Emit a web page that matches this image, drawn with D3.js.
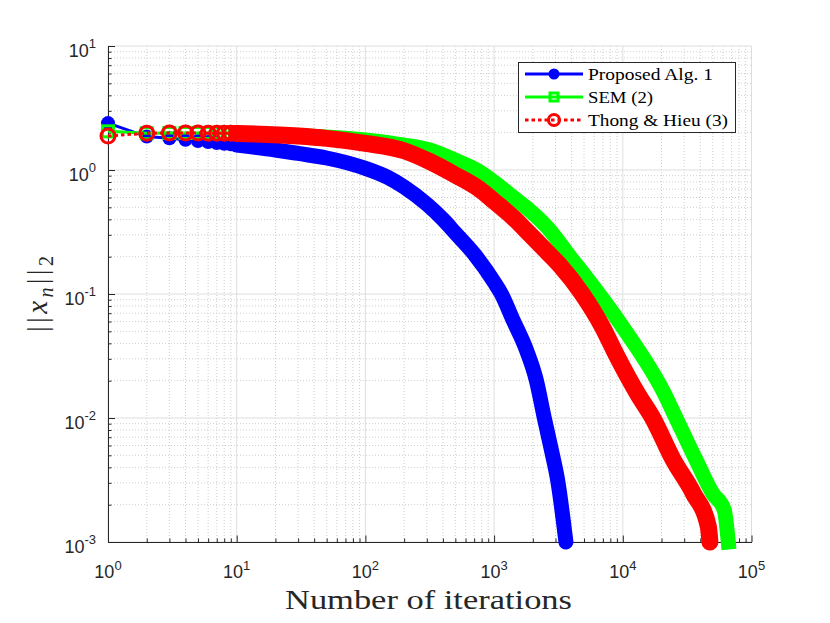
<!DOCTYPE html>
<html>
<head>
<meta charset="utf-8">
<script src="https://cdn.jsdelivr.net/npm/d3@7"></script>
<style>
  body { margin: 0; background: #fff; }
  svg { display: block; }
</style>
</head>
<body>
<div id="chart"></div>
<script>
// Iteration counts and ||x_n||_2 values, one pair per series
const blueIters = [1, 2, 3, 4, 5, 6, 7, 8, 9, 10, 20, 30, 50, 100, 150, 200, 300, 400, 500, 700, 1000, 1140, 1400, 1790, 2120, 2455, 2800, 3116, 3615];
const blueVals  = [2.39, 1.86, 1.80, 1.75, 1.71, 1.68, 1.65, 1.63, 1.61, 1.59, 1.45, 1.36, 1.25, 1.03, 0.87, 0.73, 0.53, 0.40, 0.31, 0.21, 0.125, 0.10, 0.062, 0.035, 0.0205, 0.010, 0.0054, 0.00316, 0.0010];

const greenIters = [1, 2, 3, 4, 5, 6, 7, 8, 9, 10, 30, 100, 200, 316, 500, 769, 1000, 1420, 1770, 2620, 3960, 4840, 9950, 21000, 25900, 37100, 49900, 61400, 66000];
const greenVals  = [2.05, 1.98, 1.99, 1.99, 1.99, 1.99, 1.99, 1.98, 1.98, 1.98, 1.90, 1.75, 1.59, 1.45, 1.20, 0.97, 0.80, 0.60, 0.50, 0.34, 0.195, 0.15, 0.0545, 0.0158, 0.010, 0.00458, 0.00247, 0.00181, 0.0010];

const redIters = [1, 2, 3, 4, 5, 6, 7, 8, 9, 10, 30, 50, 100, 200, 316, 500, 769, 1000, 1420, 1750, 2620, 3250, 4840, 6930, 8940, 12970, 17070, 24700, 35300, 46200, 47500];
const redVals  = [1.88, 1.98, 1.99, 1.99, 1.99, 1.98, 1.98, 1.98, 1.98, 1.97, 1.88, 1.80, 1.64, 1.43, 1.17, 0.91, 0.70, 0.56, 0.41, 0.33, 0.215, 0.17, 0.10, 0.0545, 0.032, 0.0158, 0.010, 0.00458, 0.00247, 0.00133, 0.0010];

const seriesNames = ['Proposed Alg. 1', 'SEM (2)', 'Thong & Hieu (3)'];
const xTickExps = [0, 1, 2, 3, 4, 5];
const yTickExps = [-3, -2, -1, 0, 1];

const W = 830, H = 623;
const plotL = 108, plotR = 751.5, plotT = 46, plotB = 542;

const svg = d3.select('#chart').append('svg')
    .attr('width', W)
    .attr('height', H);

const x = d3.scaleLog().domain([1, 1e5]).range([plotL, plotR]);
const y = d3.scaleLog().domain([1e-3, 10]).range([plotB, plotT]);

const isMajor = v => Math.abs(Math.log10(v) - Math.round(Math.log10(v))) < 1e-9;
const xMinor = x.ticks().filter(v => !isMajor(v));
const yMinor = y.ticks().filter(v => !isMajor(v));
const xMajor = xTickExps.map(e => Math.pow(10, e));
const yMajor = yTickExps.map(e => Math.pow(10, e));

// grid: minor dotted, then major solid
const grid = svg.append('g').attr('class', 'grid');
grid.selectAll('.xminor').data(xMinor).join('line')
    .attr('x1', d => x(d)).attr('x2', d => x(d))
    .attr('y1', plotT).attr('y2', plotB)
    .attr('stroke', '#cfcfcf').attr('stroke-width', 1)
    .attr('stroke-dasharray', '1,2');
grid.selectAll('.yminor').data(yMinor).join('line')
    .attr('x1', plotL).attr('x2', plotR)
    .attr('y1', d => y(d)).attr('y2', d => y(d))
    .attr('stroke', '#cfcfcf').attr('stroke-width', 1)
    .attr('stroke-dasharray', '1,2');
grid.selectAll('.xmajor').data(xMajor).join('line')
    .attr('x1', d => x(d)).attr('x2', d => x(d))
    .attr('y1', plotT).attr('y2', plotB)
    .attr('stroke', '#dedede').attr('stroke-width', 1);
grid.selectAll('.ymajor').data(yMajor).join('line')
    .attr('x1', plotL).attr('x2', plotR)
    .attr('y1', d => y(d)).attr('y2', d => y(d))
    .attr('stroke', '#dedede').attr('stroke-width', 1);

// axes (ticks point inward like matlab)
const axisColor = '#262626';
const xAxis = svg.append('g')
    .attr('transform', `translate(0, ${plotB})`)
    .call(d3.axisBottom(x).tickValues(xMinor.concat(xMajor)).tickSize(0).tickFormat(''));
xAxis.select('.domain').attr('stroke', axisColor);
xAxis.selectAll('.tick line')
    .attr('stroke', axisColor)
    .attr('y2', d => isMajor(d) ? -6.5 : -3.5);

const yAxis = svg.append('g')
    .attr('transform', `translate(${plotL}, 0)`)
    .call(d3.axisLeft(y).tickValues(yMinor.concat(yMajor)).tickSize(0).tickFormat(''));
yAxis.select('.domain').attr('stroke', axisColor);
yAxis.selectAll('.tick line')
    .attr('stroke', axisColor)
    .attr('x2', d => isMajor(d) ? 7 : 3.5);

// tick labels with superscript exponents
xTickExps.forEach(e => {
    const t = svg.append('text')
        .attr('x', x(Math.pow(10, e)))
        .attr('y', 578)
        .attr('text-anchor', 'middle')
        .style('font-family', '"Liberation Sans", Arial, sans-serif')
        .style('font-size', '18px')
        .style('fill', axisColor);
    t.append('tspan').text('10');
    t.append('tspan').attr('dy', -8).style('font-size', '13px').text(e);
});
yTickExps.forEach(e => {
    const t = svg.append('text')
        .attr('x', 96)
        .attr('y', y(Math.pow(10, e)) + 11)
        .attr('text-anchor', 'end')
        .style('font-family', '"Liberation Sans", Arial, sans-serif')
        .style('font-size', '18px')
        .style('fill', axisColor);
    t.append('tspan').text('10');
    t.append('tspan').attr('dy', -9).style('font-size', '13px').text(e);
});

// axis titles
svg.append('text')
    .attr('x', (285 + 572) / 2)
    .attr('y', 609)
    .attr('text-anchor', 'middle')
    .attr('textLength', 287)
    .attr('lengthAdjust', 'spacingAndGlyphs')
    .style('font-family', '"Liberation Serif", "DejaVu Serif", serif')
    .style('font-size', '28px')
    .style('fill', axisColor)
    .text('Number of iterations');

const yl = svg.append('text')
    .attr('transform', 'translate(47, 294) rotate(-90)')
    .attr('text-anchor', 'middle')
    .attr('textLength', 76)
    .attr('lengthAdjust', 'spacing')
    .style('font-family', '"Liberation Serif", "DejaVu Serif", serif')
    .style('font-size', '29px')
    .style('fill', axisColor);
yl.append('tspan').text('||');
yl.append('tspan').style('font-style', 'italic').text('x');
yl.append('tspan').attr('dy', 6).style('font-style', 'italic').style('font-size', '20px').text('n');
yl.append('tspan').attr('dy', -6).text('||');
yl.append('tspan').attr('dy', 6).style('font-size', '20px').text('2');

// series
const series = [
    { name: seriesNames[0], iters: blueIters, vals: blueVals, color: '#0000ff', marker: 'circle', dash: null, band: 15, cap: 'round' },
    { name: seriesNames[1], iters: greenIters, vals: greenVals, color: '#00ff00', marker: 'square', dash: null, band: 15, cap: 'square' },
    { name: seriesNames[2], iters: redIters, vals: redVals, color: '#ff0000', marker: 'ring', dash: '3.5,3', band: 17, cap: 'round' }
];

const line = d3.line().x(d => x(d[0])).y(d => y(d[1]));
const smooth = d3.line().x(d => x(d[0])).y(d => y(d[1])).curve(d3.curveMonotoneX);

function drawMarker(g, cx, cy, s, r) {
    if (s.marker === 'circle') {
        g.append('circle').attr('cx', cx).attr('cy', cy).attr('r', r)
            .attr('fill', s.color);
    } else if (s.marker === 'square') {
        g.append('rect').attr('x', cx - r + 1.5).attr('y', cy - r + 1.5)
            .attr('width', 2 * r - 3).attr('height', 2 * r - 3)
            .attr('fill', 'none').attr('stroke', s.color).attr('stroke-width', 3);
    } else {
        g.append('circle').attr('cx', cx).attr('cy', cy).attr('r', r)
            .attr('fill', 'none').attr('stroke', s.color).attr('stroke-width', 3);
    }
}

series.forEach(s => {
    const pts = s.iters.map((n, i) => [n, s.vals[i]]);
    const g = svg.append('g');
    g.append('path')
        .attr('d', line(pts.filter(p => p[0] <= 10)))
        .attr('fill', 'none')
        .attr('stroke', s.color)
        .attr('stroke-width', 3)
        .attr('stroke-dasharray', s.dash);
    // individual markers where iterations are still far apart
    pts.filter(p => p[0] <= 10).forEach(p => drawMarker(g, x(p[0]), y(p[1]), s, 7));
    // beyond that the markers merge into a solid band
    g.append('path')
        .attr('d', smooth(pts.filter(p => p[0] >= 10)))
        .attr('fill', 'none')
        .attr('stroke', s.color)
        .attr('stroke-width', s.band)
        .attr('stroke-linejoin', 'round')
        .attr('stroke-linecap', s.cap);
});

// legend
const lg = svg.append('g');
lg.append('rect')
    .attr('x', 518.5).attr('y', 62.5)
    .attr('width', 217).attr('height', 70)
    .attr('fill', '#fff')
    .attr('stroke', axisColor).attr('stroke-width', 1);
const legendWidths = [125, 65, 140];
series.forEach((s, i) => {
    const cy = 74 + i * 23;
    lg.append('line')
        .attr('x1', 525).attr('x2', 583)
        .attr('y1', cy).attr('y2', cy)
        .attr('stroke', s.color).attr('stroke-width', 3)
        .attr('stroke-dasharray', s.dash);
    drawMarker(lg, 554, cy, s, 5.5);
    lg.append('text')
        .attr('x', 588).attr('y', cy + 6)
        .attr('textLength', legendWidths[i])
        .attr('lengthAdjust', 'spacingAndGlyphs')
        .style('font-family', '"Liberation Serif", "DejaVu Serif", serif')
        .style('font-size', '17px')
        .style('fill', '#000')
        .text(s.name);
});
</script>
</body>
</html>
